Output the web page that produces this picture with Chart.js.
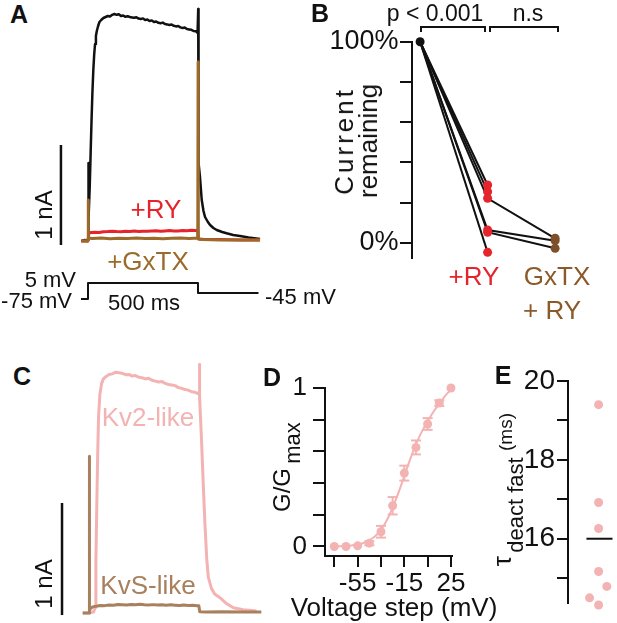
<!DOCTYPE html>
<html>
<head>
<meta charset="utf-8">
<script src="https://cdn.jsdelivr.net/npm/chart.js@4.4.1/dist/chart.umd.min.js"></script>
<style>
  body { margin:0; background:#fff; width:617px; height:623px; position:relative; overflow:hidden;
         font-family:'Liberation Sans', Arial, sans-serif; color:#111; }
  canvas { position:absolute; }
  .t { position:absolute; white-space:nowrap; line-height:1; transform:translate(-50%,-50%); }
  .r { transform:translate(-50%,-50%) rotate(-90deg); }
  .re { transform:translate(-100%,-50%); }
  .le { transform:translate(0,-50%); }
  .p { font-weight:bold; font-size:25px; }
  .br { position:absolute; box-sizing:border-box; border:2px solid #111; border-bottom:none; height:6px; }
</style>
</head>
<body>
<canvas id="cA" width="230" height="310" style="left:40px;top:0px"></canvas>
<canvas id="cB" width="297" height="330" style="left:320px;top:0px"></canvas>
<canvas id="cC" width="230" height="273" style="left:40px;top:350px"></canvas>
<canvas id="cD" width="230" height="263" style="left:255px;top:360px"></canvas>
<canvas id="cE" width="117" height="263" style="left:500px;top:360px"></canvas>

<!-- panel A text -->
<div class="t p" style="left:19px;top:14px">A</div>
<div class="t r" style="left:44px;top:215px;font-size:24px">1 nA</div>
<div class="t" style="left:156px;top:209px;font-size:26px;color:#e5242b">+RY</div>
<div class="t" style="left:148px;top:261px;font-size:26px;color:#9b6b2b">+GxTX</div>
<div class="t re" style="left:76px;top:280px;font-size:22px">5 mV</div>
<div class="t re" style="left:72px;top:301px;font-size:22px">-75 mV</div>
<div class="t" style="left:144px;top:303px;font-size:22px">500 ms</div>
<div class="t le" style="left:265px;top:297px;font-size:22px">-45 mV</div>

<!-- panel B text -->
<div class="t p" style="left:320px;top:13px">B</div>
<div class="t" style="left:435px;top:13px;font-size:23px">p &lt; 0.001</div>
<div class="t" style="left:528px;top:13px;font-size:23px">n.s</div>
<div class="br" style="left:420px;top:26px;width:66px"></div>
<div class="br" style="left:489px;top:26px;width:70px"></div>
<div class="t r" style="left:356px;top:141px;font-size:26px;line-height:24px;text-align:center"><span style="letter-spacing:3px">Current</span><br>remaining</div>
<div class="t" style="left:474px;top:276px;font-size:26px;color:#e5242b">+RY</div>
<div class="t" style="left:557px;top:276px;font-size:26px;color:#8a5a28">GxTX</div>
<div class="t" style="left:552px;top:310px;font-size:26px;color:#8a5a28">+ RY</div>

<!-- panel C text -->
<div class="t p" style="left:22px;top:376px">C</div>
<div class="t r" style="left:44px;top:584px;font-size:24px">1 nA</div>
<div class="t" style="left:148px;top:417px;font-size:26px;color:#f4b3b3">Kv2-like</div>
<div class="t" style="left:148px;top:585px;font-size:26px;color:#a8805e">KvS-like</div>

<!-- panel D text -->
<div class="t p" style="left:272px;top:377px">D</div>
<div class="t r" style="left:282px;top:490px;font-size:24px">G/G</div>
<div class="t r" style="left:293px;top:443px;font-size:22px">max</div>
<div class="t" style="left:394px;top:607px;font-size:26px">Voltage step (mV)</div>

<!-- panel E text -->
<div class="t p" style="left:503px;top:375px">E</div>
<div class="t r" style="left:502px;top:561px;font-size:26px">τ</div>
<div class="t r" style="left:516px;top:505px;font-size:22px">deact fast</div>
<div class="t r" style="left:505px;top:432px;font-size:19px">(ms)</div>

<script>
// ---- panel A: whole-cell currents (time ms, current nA) ----
const aBlackT = [-30, -15, -2, 0, 1, 2, 4, 8, 12, 16, 20, 24, 28, 32, 36, 40, 46, 52, 60, 70, 80,
  90, 100, 110, 120, 130, 140, 150, 160, 170, 180, 190, 200, 210, 220, 230, 240, 250, 260, 270, 280, 290,
  300, 310, 320, 330, 340, 350, 360, 370, 380, 390, 400, 410, 420, 430, 440, 450, 460, 470, 480, 490, 498,
  500, 501, 502.5, 509, 517, 525, 532, 545, 555, 570, 585, 610, 630, 660, 691, 730, 782];
const aBlackI = [0, 0.01, 0, 0.02, 0.78, 0.1, 0.22, 0.55, 0.88, 1.2, 1.48, 1.7, 1.86, 1.97, 2.05, 2.1, 2.15, 2.19, 2.21, 2.23, 2.24,
  2.25, 2.245, 2.262, 2.27, 2.262, 2.268, 2.25, 2.255, 2.242, 2.248, 2.24, 2.236, 2.232, 2.238, 2.224, 2.22, 2.226, 2.21, 2.214, 2.2, 2.206,
  2.19, 2.195, 2.182, 2.178, 2.184, 2.17, 2.166, 2.16, 2.165, 2.152, 2.146, 2.15, 2.136, 2.13, 2.134, 2.12, 2.116, 2.112, 2.1, 2.098, 2.08,
  2.08, 2.32, 0.78, 0.64, 0.41, 0.3, 0.24, 0.19, 0.16, 0.13, 0.11, 0.09, 0.077, 0.06, 0.05, 0.035, 0.02];

const aRyT = [-30, -2, 0, 2, 6, 15, 30, 50, 70, 90, 110, 130, 150, 170, 190, 210, 230, 250, 270, 290,
  310, 330, 350, 370, 390, 410, 430, 450, 470, 490, 499, 501, 505, 530, 600, 700, 782];
const aRyI = [0, 0, 0.01, 0.06, 0.08, 0.085, 0.088, 0.084, 0.092, 0.094, 0.098, 0.094, 0.092, 0.097, 0.095, 0.099, 0.094, 0.098, 0.097, 0.1,
  0.103, 0.098, 0.101, 0.104, 0.1, 0.099, 0.104, 0.102, 0.108, 0.105, 0.108, 0.04, 0.02, 0.015, 0.015, 0.01, 0.01];

const aGxT = [-30, -1, 0, 0.8, 2, 20, 60, 100, 140, 180, 220, 260, 300, 340, 380, 420, 460, 499, 500.5, 501.5, 520, 600, 700, 782];
const aGxI = [0, 0, 0.02, 0.41, 0.03, 0.025, 0.03, 0.022, 0.028, 0.025, 0.03, 0.024, 0.028, 0.022, 0.027, 0.03, 0.025, 0.03,
  1.79, 0.02, 0.015, 0.01, 0.01, 0.01];

// voltage protocol (ms, mV)
const protoT = [-32, 0, 0, 500, 500, 775];
const protoV = [-75, -75, 5, 5, -45, -45];

// 1 nA scale bars
const barAT = [-123, -123];
const barAI = [-0.04, 0.96];
const barCT = [-124, -124];
const barCI = [-0.018, 0.982];

// ---- panel B: fraction of current remaining, one entry per cell ----
const bConditions = [0, 1, 2];
const bControl = [100, 100, 100, 100, 100, 100];
const bRY = [28.7, 25.4, 22.1, 6.3, 5.2, -4.8];
const bGxRY = [null, null, 2.2, 1.0, -2.8, null];
const bTicks = [0, 20, 40, 60, 80, 100];

// ---- panel C: Kv2-like and KvS-like currents ----
const cKv2T = [-30, 0, 20, 26, 30, 34, 38, 42, 48, 56, 64, 75,
  90, 105, 120, 135, 150, 165, 180, 195, 210, 225, 240, 255, 270, 285, 300, 315, 330, 345, 360, 375, 390, 405, 420, 435, 450, 465, 480, 495,
  500, 500.6, 502, 510, 518, 526, 534, 541, 555, 570, 594, 620, 655, 700, 760];
const cKv2I = [0, 0, 0.01, 0.05, 0.45, 0.95, 1.4, 1.75, 1.95, 2.05, 2.09, 2.11,
  2.13, 2.135, 2.15, 2.145, 2.14, 2.128, 2.13, 2.115, 2.12, 2.105, 2.1, 2.09, 2.095, 2.078, 2.07, 2.062, 2.066, 2.05, 2.04, 2.035, 2.03, 2.012, 2.006, 1.995, 1.99, 1.975, 1.97, 1.96,
  1.96, 2.22, 1.93, 1.55, 1.15, 0.78, 0.48, 0.32, 0.22, 0.17, 0.137, 0.09, 0.047, 0.03, 0.018];

const cKvsT = [-30, -1, 0, 0.7, 1.5, 5, 15, 30, 50, 70, 90, 110, 130, 150, 170, 190, 210, 230, 250, 270, 290,
  310, 330, 350, 370, 390, 410, 430, 450, 470, 490, 498, 502, 530, 600, 700, 782];
const cKvsI = [0, 0, 0.01, 1.4, 0.02, 0.04, 0.055, 0.06, 0.068, 0.066, 0.072, 0.07, 0.076, 0.074, 0.071, 0.077, 0.073, 0.078, 0.074, 0.071, 0.075,
  0.071, 0.074, 0.069, 0.073, 0.07, 0.067, 0.071, 0.068, 0.07, 0.066, 0.065, 0.012, 0.01, 0.012, 0.01, 0.01];

// ---- panel D: conductance-voltage ----
const dVolts = [-75, -65, -55, -45, -35, -25, -15, -5, 5, 15, 25];
const dG = [0, 0, 0.004, 0.021, 0.093, 0.257, 0.463, 0.625, 0.773, 0.905, 1.0];
const dErr = [0, 0, 0.004, 0.013, 0.037, 0.055, 0.047, 0.044, 0.037, 0.018, 0];
const dFitV = [-75, -70, -65, -60, -55, -50, -45, -40, -35, -30, -25, -20, -15, -10, -5, 0, 5, 10, 15, 20, 25];
const dFitG = [0, 0.002, 0.004, 0.007, 0.012, 0.022, 0.04, 0.065, 0.105, 0.165, 0.245, 0.34, 0.445, 0.55, 0.645, 0.725, 0.79, 0.85, 0.9, 0.95, 0.99];
const dTickX = [-75, -55, -35, -15, 5, 25];
const dLabelX = [-55, -15, 25];
const dTickY = [0, 0.2, 0.4, 0.6, 0.8, 1];
const dLabelY = [0, 1];

// ---- panel E: fast deactivation time constants (ms) ----
const eTau = [19.4, 16.92, 16.26, 15.17, 14.79, 14.5, 14.32];
const eJitter = [0, 0, 0, 0, 0.95, -1.05, 0];
const eMean = 16.0;
const eTicks = [15, 16, 17, 18, 19, 20];
const eLabels = [16, 18, 20];

const ink = '#111';
const red = '#e5242b';
const gold = '#9b6b2b';
const brownB = '#7e5029';
const pink = '#f4b3b3';
const tan = '#a8805e';

Chart.defaults.font.family = "'Liberation Sans', Arial, sans-serif";
Chart.defaults.color = ink;
Chart.defaults.animation = false;
Chart.defaults.plugins.legend.display = false;
Chart.defaults.plugins.tooltip.enabled = false;

function pts(xs, ys) {
  const out = [];
  for (let i = 0; i < Math.min(xs.length, ys.length); i++) {
    if (ys[i] !== null) out.push({ x: xs[i], y: ys[i] });
  }
  return out;
}

function trace(xs, ys, color, width, order, axis) {
  return {
    data: pts(xs, ys), showLine: true, borderColor: color, borderWidth: width,
    pointRadius: 0, order: order, yAxisID: axis || 'y', clip: false,
    borderJoinStyle: 'round', borderCapStyle: 'butt'
  };
}

function hidden(min, max) {
  return { type: 'linear', display: false, min: min, max: max };
}

function fixedTicks(list) {
  return scale => { scale.ticks = list.map(v => ({ value: v })); };
}

function axisStyle(size, tickLen, pad) {
  return {
    border: { display: true, color: ink, width: 2 },
    grid: { drawOnChartArea: false, drawTicks: true, tickLength: tickLen, color: ink, lineWidth: 2 },
    ticks: { font: { size: size }, padding: pad, autoSkip: false, maxRotation: 0, color: ink }
  };
}

// panel A
new Chart(document.getElementById('cA'), {
  type: 'scatter',
  data: {
    datasets: [
      trace(aGxT, aGxI, gold, 3, 0),
      trace(aRyT, aRyI, red, 3, 1),
      trace(aBlackT, aBlackI, ink, 2.5, 2),
      trace(barAT, barAI, ink, 2.5, 3),
      trace(protoT, protoV, ink, 2, 3, 'yv')
    ]
  },
  options: {
    responsive: false,
    layout: { padding: 0 },
    scales: { x: hidden(-218.2, 827.3), y: hidden(-0.69, 2.41), yv: hidden(-130, 1420) }
  }
});

// panel B
const bLines = bControl.map((c, i) => ({
  data: pts(bConditions, [c, bRY[i], bGxRY[i]]),
  showLine: true, borderColor: ink, borderWidth: 2, pointRadius: 0, order: 2, clip: false
}));
const bDots = [
  { data: pts([bConditions[0]], [bControl[0]]), backgroundColor: ink },
  { data: pts(bRY.map(() => bConditions[1]), bRY), backgroundColor: red },
  { data: pts(bGxRY.map(() => bConditions[2]), bGxRY), backgroundColor: brownB }
].map(d => Object.assign(d, { pointRadius: 4.5, pointBorderWidth: 0, order: 0, clip: false }));

const bY = axisStyle(27, 12, 1.5);
bY.min = -7.76; bY.max = 100;
bY.afterBuildTicks = fixedTicks(bTicks);
bY.afterFit = s => { s.width = 92; };
bY.ticks.callback = v => (v === 100 ? '100%' : v === 0 ? '0%' : '');

new Chart(document.getElementById('cB'), {
  type: 'scatter',
  data: { datasets: bDots.concat(bLines) },
  options: {
    responsive: false,
    layout: { padding: { top: 41.7, bottom: 71.7, left: 0, right: 0 } },
    scales: { x: hidden(-0.12, 2.85), y: bY }
  }
});

// panel C
new Chart(document.getElementById('cC'), {
  type: 'scatter',
  data: {
    datasets: [
      trace(cKvsT, cKvsI, tan, 3, 0),
      trace(cKv2T, cKv2I, pink, 3, 1),
      trace(barCT, barCI, ink, 2.5, 2)
    ]
  },
  options: {
    responsive: false,
    layout: { padding: 0 },
    scales: { x: hidden(-224.1, 821.4), y: hidden(-0.089, 2.348) }
  }
});

// panel D
const dBars = dVolts.map((v, i) => ({ v: v, g: dG[i], e: dErr[i] }))
  .filter(p => p.e > 0.006)
  .map(p => ({
    data: [{ x: p.v, y: p.g - p.e }, { x: p.v, y: p.g + p.e }],
    showLine: true, borderColor: pink, borderWidth: 2,
    pointStyle: 'line', pointRadius: 5, pointBorderWidth: 2, pointBorderColor: pink,
    order: 1, clip: false
  }));

const dX = axisStyle(26, 11, 1);
dX.min = -83; dX.max = 25.9;
dX.afterBuildTicks = fixedTicks(dTickX);
dX.afterFit = s => { s.height = 67; };
dX.ticks.callback = v => (dLabelX.includes(v) ? String(v) : '');

const dY = axisStyle(26, 12, 6);
dY.min = -0.06; dY.max = 1;
dY.afterBuildTicks = fixedTicks(dTickY);
dY.afterFit = s => { s.width = 70; };
dY.ticks.callback = v => (dLabelY.includes(v) ? String(v) : '');

new Chart(document.getElementById('cD'), {
  type: 'scatter',
  data: {
    datasets: [
      { data: pts(dVolts, dG), backgroundColor: pink, pointRadius: 4.5, pointBorderWidth: 0, order: 0, clip: false },
      { data: pts(dFitV, dFitG), showLine: true, borderColor: pink, borderWidth: 2, pointRadius: 0,
        tension: 0.4, cubicInterpolationMode: 'monotone', order: 2, clip: false }
    ].concat(dBars)
  },
  options: {
    responsive: false,
    layout: { padding: { top: 28, right: 33, left: 0, bottom: 0 } },
    scales: { x: dX, y: dY }
  }
});

// panel E
const eY = axisStyle(28, 11, 2);
eY.min = 14.37; eY.max = 20;
eY.afterBuildTicks = fixedTicks(eTicks);
eY.afterFit = s => { s.width = 68; };
eY.ticks.callback = v => (eLabels.includes(v) ? String(v) : '');

new Chart(document.getElementById('cE'), {
  type: 'scatter',
  data: {
    datasets: [
      { data: pts(eJitter, eTau), backgroundColor: pink, pointRadius: 4.5, pointBorderWidth: 0, order: 0, clip: false },
      { data: pts([-1.41, 1.61], [eMean, eMean]), showLine: true, borderColor: ink, borderWidth: 2, pointRadius: 0, order: 1, clip: false }
    ]
  },
  options: {
    responsive: false,
    layout: { padding: { top: 21, bottom: 20, left: 0, right: 0 } },
    scales: { x: hidden(-3.55, 1.61), y: eY }
  }
});
</script>
</body>
</html>
